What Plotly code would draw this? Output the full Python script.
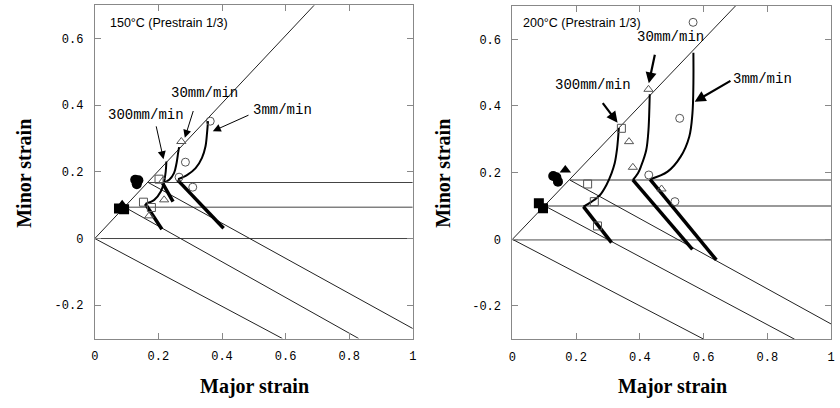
import plotly.graph_objects as go

# ---------------- data: 150°C (left) ----------------
L_diag_x = [0.0, 0.69]
L_diag_y = [0.0, 0.70]
L_hline_y = [0.0, 0.094, 0.168]
L_hline_x0 = [0.0, 0.094, 0.168]
L_slant_x0 = [0.0, 0.094, 0.168]
L_slant_y0 = [0.0, 0.094, 0.168]
L_slant_x1 = [0.59, 0.83, 1.0]
L_slant_y1 = [-0.30, -0.30, -0.27]

L_c300_x = [0.159, 0.187, 0.2075, 0.218, 0.223, 0.225]
L_c300_y = [0.104, 0.116, 0.141, 0.171, 0.201, 0.231]
L_c30_x = [0.213, 0.234, 0.249, 0.257, 0.262, 0.265]
L_c30_y = [0.166, 0.176, 0.196, 0.226, 0.257, 0.274]
L_c3_x = [0.262, 0.291, 0.317, 0.337, 0.348, 0.353, 0.356]
L_c3_y = [0.178, 0.191, 0.211, 0.242, 0.276, 0.317, 0.352]

L_t300_x = [0.159, 0.211]
L_t300_y = [0.104, 0.028]
L_t30_x = [0.213, 0.246]
L_t30_y = [0.166, 0.111]
L_t3_x = [0.260, 0.405]
L_t3_y = [0.176, 0.031]

L_circ_x = [0.363, 0.285, 0.265, 0.308]
L_circ_y = [0.352, 0.229, 0.184, 0.154]
L_tri_x = [0.272, 0.215, 0.218, 0.171]
L_tri_y = [0.291, 0.174, 0.116, 0.068]
L_sq_x = [0.202, 0.153, 0.178]
L_sq_y = [0.178, 0.109, 0.093]

L_fcirc_x = [0.127, 0.137, 0.132]
L_fcirc_y = [0.176, 0.175, 0.163]
L_fsq_x = [0.076, 0.092]
L_fsq_y = [0.090, 0.088]
L_ftri_x = [0.086]
L_ftri_y = [0.101]

# ---------------- data: 200°C (right) ----------------
R_diag_x = [0.0, 0.70]
R_diag_y = [0.0, 0.70]
R_hline_y = [-0.002, 0.100, 0.178]
R_hline_x0 = [0.0, 0.102, 0.180]
R_slant_x0 = [0.0, 0.102, 0.180]
R_slant_y0 = [0.0, 0.100, 0.178]
R_slant_x1 = [0.601, 0.886, 1.0]
R_slant_y1 = [-0.30, -0.30, -0.254]

R_c300_x = [0.223, 0.249, 0.275, 0.295, 0.311, 0.321, 0.328, 0.332, 0.334]
R_c300_y = [0.098, 0.113, 0.133, 0.163, 0.198, 0.228, 0.268, 0.308, 0.334]
R_c30_x = [0.378, 0.394, 0.404, 0.420, 0.427, 0.430, 0.431]
R_c30_y = [0.178, 0.198, 0.220, 0.268, 0.328, 0.398, 0.435]
R_c3_x = [0.432, 0.487, 0.528, 0.555, 0.565, 0.568, 0.568]
R_c3_y = [0.180, 0.203, 0.248, 0.308, 0.378, 0.468, 0.560]

R_t300_x = [0.223, 0.311]
R_t300_y = [0.098, -0.010]
R_t30_x = [0.378, 0.565]
R_t30_y = [0.178, -0.030]
R_t3_x = [0.432, 0.640]
R_t3_y = [0.180, -0.062]

R_circ_x = [0.567, 0.525, 0.428, 0.510]
R_circ_y = [0.651, 0.363, 0.193, 0.113]
R_tri_x = [0.427, 0.366, 0.378, 0.468]
R_tri_y = [0.450, 0.293, 0.216, 0.151]
R_sq_x = [0.342, 0.236, 0.257, 0.267]
R_sq_y = [0.333, 0.166, 0.113, 0.040]

R_fcirc_x = [0.128, 0.138, 0.143]
R_fcirc_y = [0.190, 0.186, 0.173]
R_fsq_x = [0.083, 0.096]
R_fsq_y = [0.108, 0.093]
R_ftri_x = [0.166]
R_ftri_y = [0.208]

# tick labels
x_tickvals = [0, 0.2, 0.4, 0.6, 0.8, 1]
x_ticktext = ["0", "0.2", "0.4", "0.6", "0.8", "1"]
y_tickvals = [-0.2, 0, 0.2, 0.4, 0.6]
y_ticktext = ["-0.2", "0", "0.2", "0.4", "0.6"]

rate_labels = ["300mm/min", "30mm/min", "3mm/min"]
# label positions (data coords) and arrows (head, tail)
L_lab_x = [0.160, 0.346, 0.589]
L_lab_y = [0.372, 0.438, 0.387]
L_arr_hx = [0.216, 0.283, 0.371]
L_arr_hy = [0.238, 0.302, 0.322]
L_arr_tx = [0.192, 0.311, 0.488]
L_arr_ty = [0.341, 0.387, 0.372]
R_lab_x = [0.254, 0.496, 0.786]
R_lab_y = [0.463, 0.607, 0.481]
R_arr_hx = [0.330, 0.428, 0.572]
R_arr_hy = [0.350, 0.468, 0.413]
R_arr_tx = [0.280, 0.448, 0.689]
R_arr_ty = [0.413, 0.558, 0.478]

fig = go.Figure()


def add_panel(xa, ya, diag_x, diag_y, hy, hx0, sx0, sy0, sx1, sy1,
              curves, thicks, circ, tri, sq, fcirc, fsq, ftri, hcolor, hwidth):
    ln = dict(color="#222", width=1)
    fig.add_trace(go.Scatter(x=diag_x, y=diag_y, mode="lines", line=ln, xaxis=xa, yaxis=ya))
    for y, x0 in zip(hy, hx0):
        fig.add_trace(go.Scatter(x=[x0, 1.0], y=[y, y], mode="lines",
                                 line=dict(color=hcolor, width=hwidth), xaxis=xa, yaxis=ya))
    for a, b, c, d in zip(sx0, sy0, sx1, sy1):
        fig.add_trace(go.Scatter(x=[a, c], y=[b, d], mode="lines", line=ln, xaxis=xa, yaxis=ya))
    for cx, cy in curves:
        fig.add_trace(go.Scatter(x=cx, y=cy, mode="lines", line=dict(color="black", width=2, shape="spline"),
                                 xaxis=xa, yaxis=ya))
    for tx, ty in thicks:
        fig.add_trace(go.Scatter(x=tx, y=ty, mode="lines", line=dict(color="black", width=3.5),
                                 xaxis=xa, yaxis=ya))
    for (mx, my), sym in zip([circ, tri, sq], ["circle-open", "triangle-up-open", "square-open"]):
        fig.add_trace(go.Scatter(x=mx, y=my, mode="markers",
                                 marker=dict(symbol=sym, size=8, color="#555", line=dict(width=1, color="#555")),
                                 xaxis=xa, yaxis=ya))
    for (mx, my), sym in zip([fcirc, fsq, ftri], ["circle", "square", "triangle-up"]):
        fig.add_trace(go.Scatter(x=mx, y=my, mode="markers",
                                 marker=dict(symbol=sym, size=10, color="black"),
                                 xaxis=xa, yaxis=ya))


add_panel("x", "y", L_diag_x, L_diag_y, L_hline_y, L_hline_x0, L_slant_x0, L_slant_y0, L_slant_x1, L_slant_y1,
          [(L_c300_x, L_c300_y), (L_c30_x, L_c30_y), (L_c3_x, L_c3_y)],
          [(L_t300_x, L_t300_y), (L_t30_x, L_t30_y), (L_t3_x, L_t3_y)],
          (L_circ_x, L_circ_y), (L_tri_x, L_tri_y), (L_sq_x, L_sq_y),
          (L_fcirc_x, L_fcirc_y), (L_fsq_x, L_fsq_y), (L_ftri_x, L_ftri_y), "#444", 1)
add_panel("x2", "y2", R_diag_x, R_diag_y, R_hline_y, R_hline_x0, R_slant_x0, R_slant_y0, R_slant_x1, R_slant_y1,
          [(R_c300_x, R_c300_y), (R_c30_x, R_c30_y), (R_c3_x, R_c3_y)],
          [(R_t300_x, R_t300_y), (R_t30_x, R_t30_y), (R_t3_x, R_t3_y)],
          (R_circ_x, R_circ_y), (R_tri_x, R_tri_y), (R_sq_x, R_sq_y),
          (R_fcirc_x, R_fcirc_y), (R_fsq_x, R_fsq_y), (R_ftri_x, R_ftri_y), "#999", 1.8)

tickfont = dict(family="Liberation Mono, DejaVu Sans Mono, monospace", size=12, color="black")
axis_common = dict(showgrid=False, zeroline=False, showline=True, linecolor="#888", linewidth=1,
                   mirror="ticks", ticks="inside", ticklen=6, tickcolor="#888", tickwidth=1,
                   tickfont=tickfont)
xa = dict(axis_common, range=[0, 1], tickvals=x_tickvals, ticktext=x_ticktext, ticklabelstandoff=6)
ya = dict(axis_common, range=[-0.3, 0.7], tickvals=y_tickvals, ticktext=y_ticktext, ticklabelstandoff=8)

annotations = []
labfont = dict(family="Liberation Mono, DejaVu Sans Mono, monospace", size=14, color="black")
for xr, yr, lx, ly, hx, hy, tx, ty, aw, asz in [
    ("x", "y", L_lab_x, L_lab_y, L_arr_hx, L_arr_hy, L_arr_tx, L_arr_ty, 1, 1.6),
    ("x2", "y2", R_lab_x, R_lab_y, R_arr_hx, R_arr_hy, R_arr_tx, R_arr_ty, 2.2, 1.0),
]:
    for t, x, y in zip(rate_labels, lx, ly):
        annotations.append(dict(x=x, y=y, xref=xr, yref=yr, text=t, showarrow=False, font=labfont))
    for a, b, c, d in zip(hx, hy, tx, ty):
        annotations.append(dict(x=a, y=b, ax=c, ay=d, xref=xr, yref=yr, axref=xr, ayref=yr, text="",
                                showarrow=True, arrowhead=2, arrowsize=asz, arrowwidth=aw,
                                arrowcolor="black", standoff=0, startstandoff=0))

titlefont = dict(family="Liberation Sans, Arial, sans-serif", size=12.5, color="black")
annotations.append(dict(x=0.041, y=0.647, xref="x", yref="y", xanchor="left", text="150°C (Prestrain 1/3)",
                        showarrow=False, font=titlefont))
annotations.append(dict(x=0.026, y=0.648, xref="x2", yref="y2", xanchor="left", text="200°C (Prestrain 1/3)",
                        showarrow=False, font=titlefont))

axfont = dict(family="Liberation Serif, Times New Roman, serif", size=20, color="black")
for x, y, t, ang in [(20 / 840, 0.576, "<b>Minor strain</b>", -90), (253 / 840, 0.052, "<b>Major strain</b>", 0),
                     (443 / 840, 0.576, "<b>Minor strain</b>", -90), (675 / 840, 0.052, "<b>Major strain</b>", 0)]:
    annotations.append(dict(x=x, y=y, xref="paper", yref="paper", text=t, textangle=ang, showarrow=False,
                            font=axfont, xanchor="center", yanchor="middle"))

fig.update_layout(
    width=840, height=408, margin=dict(l=0, r=0, t=0, b=0),
    paper_bgcolor="white", plot_bgcolor="white", showlegend=False,
    xaxis=dict(xa, domain=[91.7 / 840, 412.7 / 840], anchor="y"),
    yaxis=dict(ya, domain=[0.1703, 0.9873], anchor="x"),
    xaxis2=dict(xa, domain=[513.3 / 840, 835 / 840], anchor="y2"),
    yaxis2=dict(ya, domain=[0.1684, 0.9853], anchor="x2"),
    annotations=annotations,
)

fig.write_html("out.html", config={"displayModeBar": False},
               post_script="document.body.style.margin='0';document.body.style.overflow='hidden';")
